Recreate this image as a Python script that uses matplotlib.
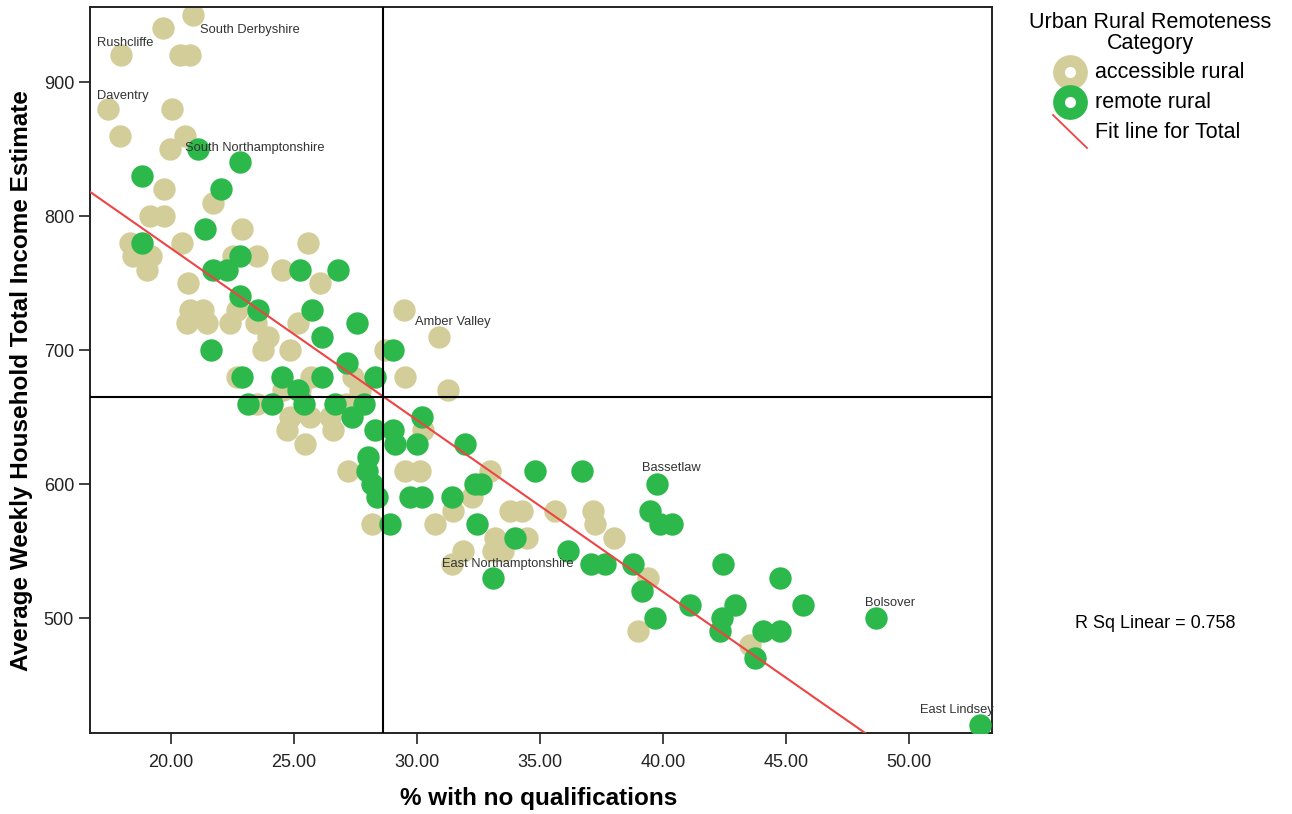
import numpy as np
import matplotlib.pyplot as plt
from matplotlib.lines import Line2D

plt.rcParams['font.family'] = ['Liberation Sans', 'DejaVu Sans']

# accessible rural districts: % with no qualifications, weekly income
acc_pct = [20.91, 19.69, 17.96, 20.37, 20.77, 17.45, 20.03, 17.93, 20.57, 19.96,
           19.72, 21.70, 19.15, 19.72, 22.87, 18.33, 20.43, 25.58, 18.47, 19.20,
           22.53, 23.48, 19.03, 24.50, 20.70, 26.06, 20.77, 21.31, 22.67, 29.48,
           20.64, 21.45, 22.40, 23.45, 25.17, 23.96, 30.89, 23.75, 24.84, 28.70,
           22.67, 25.70, 27.41, 29.51, 24.57, 25.24, 27.70, 31.24, 23.50, 27.10,
           24.84, 25.65, 26.46, 24.70, 26.60, 30.26, 25.45, 27.21, 29.51, 30.12,
           32.97, 32.22, 31.48, 33.80, 34.25, 35.62, 37.17, 28.16, 30.73, 37.24,
           33.17, 34.46, 38.01, 31.89, 33.10, 33.50, 31.41, 39.38, 38.97, 43.54]
acc_income = [950, 940, 920, 920, 920, 880, 880, 860, 860, 850,
              820, 810, 800, 800, 790, 780, 780, 780, 770, 770,
              770, 770, 760, 760, 750, 750, 730, 730, 730, 730,
              720, 720, 720, 720, 720, 710, 710, 700, 700, 700,
              680, 680, 680, 680, 670, 670, 670, 670, 660, 660,
              650, 650, 650, 640, 640, 640, 630, 610, 610, 610,
              610, 590, 580, 580, 580, 580, 580, 570, 570, 570,
              560, 560, 560, 550, 550, 550, 540, 530, 490, 480]

# remote rural districts
rem_pct = [21.11, 22.80, 18.83, 22.02, 21.38, 18.81, 22.80, 21.72, 22.26, 25.24,
           26.80, 22.80, 23.55, 25.72, 27.58, 26.13, 21.62, 29.04, 27.14, 22.87,
           24.50, 26.13, 28.29, 25.17, 23.14, 24.09, 25.40, 26.67, 27.85, 27.35,
           30.19, 28.29, 29.04, 29.10, 29.99, 31.95, 28.02, 27.95, 34.80, 36.72,
           28.16, 32.35, 32.60, 39.74, 28.36, 29.72, 30.19, 31.41, 39.45, 28.90,
           32.43, 39.88, 40.35, 33.98, 36.15, 37.07, 37.64, 38.77, 42.42, 33.10,
           44.76, 39.16, 41.10, 42.93, 45.68, 39.67, 42.39, 48.65, 42.32, 44.08,
           44.76, 43.74, 52.89]
rem_income = [850, 840, 830, 820, 790, 780, 770, 760, 760, 760,
              760, 740, 730, 730, 720, 710, 700, 700, 690, 680,
              680, 680, 680, 670, 660, 660, 660, 660, 660, 650,
              650, 640, 640, 630, 630, 630, 620, 610, 610, 610,
              600, 600, 600, 600, 590, 590, 590, 590, 580, 570,
              570, 570, 570, 560, 550, 540, 540, 540, 540, 530,
              530, 520, 510, 510, 510, 500, 500, 500, 490, 490,
              490, 470, 420]

# labelled districts
lab_names = ['Rushcliffe', 'South Derbyshire', 'Daventry', 'South Northamptonshire',
             'Amber Valley', 'Bassetlaw', 'East Northamptonshire', 'Bolsover', 'East Lindsey']
lab_pct = [17.96, 20.91, 17.45, 21.11, 30.89, 39.74, 33.10, 48.65, 52.89]
lab_income = [920, 950, 880, 850, 710, 600, 530, 500, 420]
lab_offsets = [(-24, 12), (7, -15), (-11, 13), (-13, 1), (-24, 15),
               (-15, 16), (-51, 14), (-11, 15), (-60, 15)]

# reference lines (means) and linear fit
mean_pct = 28.62
mean_income = 665.0
fit_slope = -12.82
fit_intercept = 1032.3
r_sq = 0.758

beige = '#D3CE99'
green = '#2DB84B'

fig = plt.figure(figsize=(12.92, 8.14), dpi=100)
ax = fig.add_axes([90/1292, 1 - 733/814, 902/1292, 726/814])

ax.scatter(acc_pct, acc_income, s=260, color=beige, linewidths=0, zorder=2)
ax.scatter(rem_pct, rem_income, s=260, color=green, linewidths=0, zorder=3)

xs = np.array([10, 60])
ax.plot(xs, fit_intercept + fit_slope * xs, color='#EE4444', lw=1.5, zorder=4)
ax.axvline(mean_pct, color='black', lw=1.5, zorder=5)
ax.axhline(mean_income, color='black', lw=1.5, zorder=5)

for name, x, y, off in zip(lab_names, lab_pct, lab_income, lab_offsets):
    ax.annotate(name, (x, y), xytext=off, textcoords='offset pixels',
                ha='left', va='center', fontsize=9.3, color='#333333', zorder=6)

ax.set_xlim(16.71, 53.37)
ax.set_ylim(414.2, 956.0)
ax.set_xticks([20, 25, 30, 35, 40, 45, 50])
ax.set_xticklabels([f'{v:.2f}' for v in [20, 25, 30, 35, 40, 45, 50]])
ax.set_yticks([500, 600, 700, 800, 900])
ax.tick_params(axis='both', labelsize=13, length=8, width=1.2, direction='out',
               colors='#222222')
ax.tick_params(axis='x', pad=7)
ax.tick_params(axis='y', pad=3.5)
for sp in ax.spines.values():
    sp.set_linewidth(1.4)
    sp.set_color('#222222')

ax.set_xlabel('% with no qualifications', fontsize=17.5, fontweight='bold')
ax.set_ylabel('Average Weekly Household Total Income Estimate', fontsize=17.5,
              fontweight='bold')
ax.xaxis.set_label_coords(0.4978, -0.075)
ax.yaxis.set_label_coords(-0.0632, 0.486)

# legend, drawn by hand to the right of the plot
def fx(px):
    return px / 1292

def fy(py):
    return 1 - py / 814

fig.text(fx(1150), fy(22), 'Urban Rural Remoteness', fontsize=15.5, ha='center', va='center')
fig.text(fx(1150), fy(44), 'Category', fontsize=15.5, ha='center', va='center')
for py, col, txt in [(72, beige, 'accessible rural'), (102, green, 'remote rural')]:
    fig.add_artist(Line2D([fx(1070)], [fy(py)], marker='o', markersize=16.5,
                          markerfacecolor='white', markeredgecolor=col,
                          markeredgewidth=8.5, transform=fig.transFigure))
    fig.text(fx(1095), fy(py), txt, fontsize=15.5, ha='left', va='center')
fig.add_artist(Line2D([fx(1053), fx(1087)], [fy(115), fy(148)], color='#EE4444',
                      lw=1.3, transform=fig.transFigure))
fig.text(fx(1095), fy(133), 'Fit line for Total', fontsize=15.5, ha='left', va='center')

fig.text(fx(1155), fy(623), f'R Sq Linear = {r_sq:.3f}', fontsize=13, ha='center', va='center')

fig.savefig('out.png', dpi=100)
